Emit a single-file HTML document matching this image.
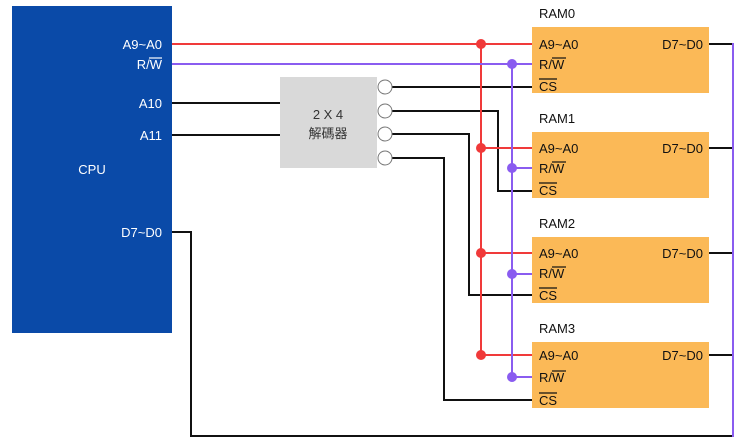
<!DOCTYPE html>
<html><head><meta charset="utf-8"><style>
html,body{margin:0;padding:0;background:#fff;}
svg{display:block;}
text{font-family:"Liberation Sans","Noto Sans CJK TC",sans-serif;font-size:13px;}
</style></head><body>
<svg width="740" height="441" viewBox="0 0 740 441" xmlns="http://www.w3.org/2000/svg">
<rect x="12" y="6" width="160" height="327" fill="#0a4aa8"/>
<g fill="#fff" text-anchor="end">
<text x="162" y="49">A9~A0</text>
<text x="162" y="69">R/W</text>
<line x1="149" y1="58" x2="162" y2="58" stroke="#fff" stroke-width="1.2"/>
<text x="162" y="108">A10</text>
<text x="162" y="140">A11</text>
<text x="162" y="237">D7~D0</text>
</g>
<text x="92" y="174" fill="#fff" text-anchor="middle">CPU</text>

<rect x="280" y="77" width="97" height="91" fill="#d9d9d9"/>
<text x="328" y="119" text-anchor="middle" fill="#333">2 X 4</text>
<text x="328" y="138" text-anchor="middle" fill="#333">解碼器</text>

<g fill="none" stroke="#111" stroke-width="2">
<line x1="172" y1="103" x2="280" y2="103"/>
<line x1="172" y1="135" x2="280" y2="135"/>
<polyline points="392,87 532,87"/>
<polyline points="392,111 498,111 498,191 532,191"/>
<polyline points="392,134 469,134 469,295 532,295"/>
<polyline points="392,158 444,158 444,400 532,400"/>
<polyline points="172,232 191,232 191,436 733,436"/>
<line x1="709" y1="44" x2="733" y2="44"/>
<line x1="709" y1="148" x2="733" y2="148"/>
<line x1="709" y1="253" x2="733" y2="253"/>
<line x1="709" y1="355" x2="733" y2="355"/>
</g>
<line x1="733" y1="43" x2="733" y2="437" stroke="#8a5cf0" stroke-width="2"/>

<g fill="#fff" stroke="#777" stroke-width="1">
<circle cx="385" cy="87" r="7"/><circle cx="385" cy="111" r="7"/>
<circle cx="385" cy="134" r="7"/><circle cx="385" cy="158" r="7"/>
</g>

<g stroke="#f03a3a" stroke-width="2" fill="none">
<line x1="172" y1="44" x2="532" y2="44"/>
<line x1="481" y1="44" x2="481" y2="355"/>
<line x1="481" y1="148" x2="532" y2="148"/>
<line x1="481" y1="253" x2="532" y2="253"/>
<line x1="481" y1="355" x2="532" y2="355"/>
</g>
<g fill="#f03a3a"><circle cx="481" cy="44" r="5"/><circle cx="481" cy="148" r="5"/><circle cx="481" cy="253" r="5"/><circle cx="481" cy="355" r="5"/></g>
<g stroke="#8a5cf0" stroke-width="2" fill="none">
<line x1="172" y1="64" x2="532" y2="64"/>
<line x1="512" y1="64" x2="512" y2="377"/>
<line x1="512" y1="168" x2="532" y2="168"/>
<line x1="512" y1="274" x2="532" y2="274"/>
<line x1="512" y1="377" x2="532" y2="377"/>
</g>
<g fill="#8a5cf0"><circle cx="512" cy="64" r="5"/><circle cx="512" cy="168" r="5"/><circle cx="512" cy="274" r="5"/><circle cx="512" cy="377" r="5"/></g>

<g transform="translate(0,27)">
<rect x="532" y="0" width="177" height="66" fill="#fbb957"/>
<text x="539" y="-9" fill="#111">RAM0</text>
<text x="539" y="22" fill="#111">A9~A0</text><text x="703" y="22" fill="#111" text-anchor="end">D7~D0</text>
<text x="539" y="42" fill="#111">R/W</text><line x1="552" y1="31" x2="566" y2="31" stroke="#111" stroke-width="1.2"/>
<text x="539" y="64" fill="#111">CS</text><line x1="539" y1="52" x2="557" y2="52" stroke="#111" stroke-width="1.2"/>
</g>
<g transform="translate(0,132)">
<rect x="532" y="0" width="177" height="66" fill="#fbb957"/>
<text x="539" y="-9" fill="#111">RAM1</text>
<text x="539" y="21" fill="#111">A9~A0</text><text x="703" y="21" fill="#111" text-anchor="end">D7~D0</text>
<text x="539" y="41" fill="#111">R/W</text><line x1="552" y1="30" x2="566" y2="30" stroke="#111" stroke-width="1.2"/>
<text x="539" y="63" fill="#111">CS</text><line x1="539" y1="51" x2="557" y2="51" stroke="#111" stroke-width="1.2"/>
</g>
<g transform="translate(0,237)">
<rect x="532" y="0" width="177" height="66" fill="#fbb957"/>
<text x="539" y="-9" fill="#111">RAM2</text>
<text x="539" y="21" fill="#111">A9~A0</text><text x="703" y="21" fill="#111" text-anchor="end">D7~D0</text>
<text x="539" y="41" fill="#111">R/W</text><line x1="552" y1="30" x2="566" y2="30" stroke="#111" stroke-width="1.2"/>
<text x="539" y="63" fill="#111">CS</text><line x1="539" y1="51" x2="557" y2="51" stroke="#111" stroke-width="1.2"/>
</g>
<g transform="translate(0,342)">
<rect x="532" y="0" width="177" height="66" fill="#fbb957"/>
<text x="539" y="-9" fill="#111">RAM3</text>
<text x="539" y="18" fill="#111">A9~A0</text><text x="703" y="18" fill="#111" text-anchor="end">D7~D0</text>
<text x="539" y="40" fill="#111">R/W</text><line x1="552" y1="29" x2="566" y2="29" stroke="#111" stroke-width="1.2"/>
<text x="539" y="63" fill="#111">CS</text><line x1="539" y1="51" x2="557" y2="51" stroke="#111" stroke-width="1.2"/>
</g>
</svg>
</body></html>
